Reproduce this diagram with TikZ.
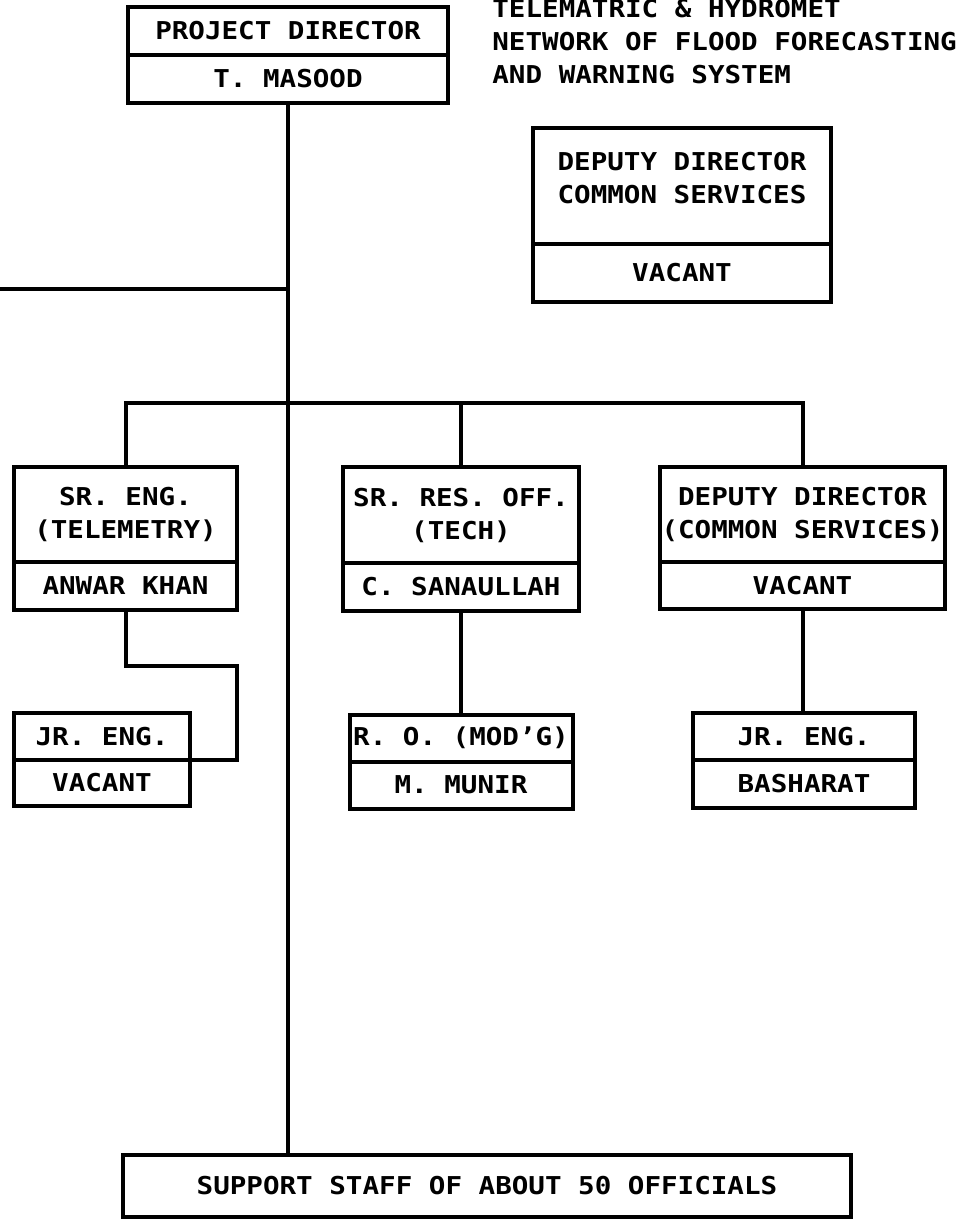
\documentclass[tikz,border=0pt]{standalone}
\usepackage{fontspec}
\newfontfamily\plotterfont[FakeStretch=1.12]{DejaVu Sans Mono}
\usetikzlibrary{positioning}

\begin{document}
\begin{tikzpicture}[
        x=0.5pt, y=-0.5pt,
        every node/.style={font=\plotterfont\bfseries\fontsize{12.3pt}{16.5pt}\selectfont},
        post/.style={draw, rectangle, line width=2pt, outer sep=0pt, inner sep=0pt, align=center},
        wire/.style={line width=2pt}
    ]
        \useasboundingbox (0,0) rectangle (963,1226);

        % Title
        \node (title) [anchor=west, align=left, inner sep=0pt] at (492,42) {TELEMATRIC \& HYDROMET\\NETWORK OF FLOOD FORECASTING\\AND WARNING SYSTEM};

        % Nodes
        \node (pd) [post, minimum width=160pt, minimum height=24pt] at (288,31) {PROJECT DIRECTOR};
        \node (pdname) [post, minimum width=160pt, minimum height=24pt, below=0pt of pd] {T. MASOOD};

        \node (ddcs) [post, minimum width=149pt, minimum height=58pt] at (682,186) {};
        \node (ddcstext) [align=center, inner sep=0pt] at ([yshift=3.8pt]ddcs.center) {DEPUTY DIRECTOR\\COMMON SERVICES};
        \node (ddcsname) [post, minimum width=149pt, minimum height=29pt, below=0pt of ddcs] {VACANT};

        \node (sre) [post, minimum width=111.5pt, minimum height=47.5pt] at (125.5,514.5) {SR. ENG.\\(TELEMETRY)};
        \node (srename) [post, minimum width=111.5pt, minimum height=24pt, below=0pt of sre] {ANWAR KHAN};

        \node (srr) [post, minimum width=118pt, minimum height=48pt] at (461,515) {SR. RES. OFF.\\(TECH)};
        \node (srrname) [post, minimum width=118pt, minimum height=24pt, below=0pt of srr] {C. SANAULLAH};

        \node (dd) [post, minimum width=142.5pt, minimum height=47.5pt] at (802.5,514.5) {DEPUTY DIRECTOR\\(COMMON SERVICES)};
        \node (ddname) [post, minimum width=142.5pt, minimum height=23.5pt, below=0pt of dd] {VACANT};

        \node (jre) [post, minimum width=88pt, minimum height=23.5pt] at (102,736.5) {JR. ENG.};
        \node (jrename) [post, minimum width=88pt, minimum height=23pt, below=0pt of jre] {VACANT};

        \node (ro) [post, minimum width=111.5pt, minimum height=23.5pt] at (461,738) {R. O. (MOD’G)};
        \node (roname) [post, minimum width=111.5pt, minimum height=23.5pt, below=0pt of ro] {M. MUNIR};

        \node (jrb) [post, minimum width=111pt, minimum height=23.5pt] at (804,736.5) {JR. ENG.};
        \node (jrbname) [post, minimum width=111pt, minimum height=24pt, below=0pt of jrb] {BASHARAT};

        \node (staff) [post, minimum width=364pt, minimum height=31pt] at (487,1186) {SUPPORT STAFF OF ABOUT 50 OFFICIALS};

        \coordinate (offpage) at (0,289);
        \coordinate (bus) at (288,403);
        \coordinate (jog) at (237,666);

        % Lines
        \draw [wire] (pdname.south) -- (pdname.south |- staff.north);
        \draw [wire] (offpage) -- (offpage -| pdname.south);
        \draw [wire] (sre.north) |- (bus) -| (dd.north);
        \draw [wire] (srr.north) -- (srr.north |- bus);
        \draw [wire] (srename.south) |- (jog) |- (jre.south east);
        \draw [wire] (srrname.south) -- (srrname.south |- ro.north);
        \draw [wire] (ddname.south) -- (ddname.south |- jrb.north);
    \end{tikzpicture}
\end{document}
